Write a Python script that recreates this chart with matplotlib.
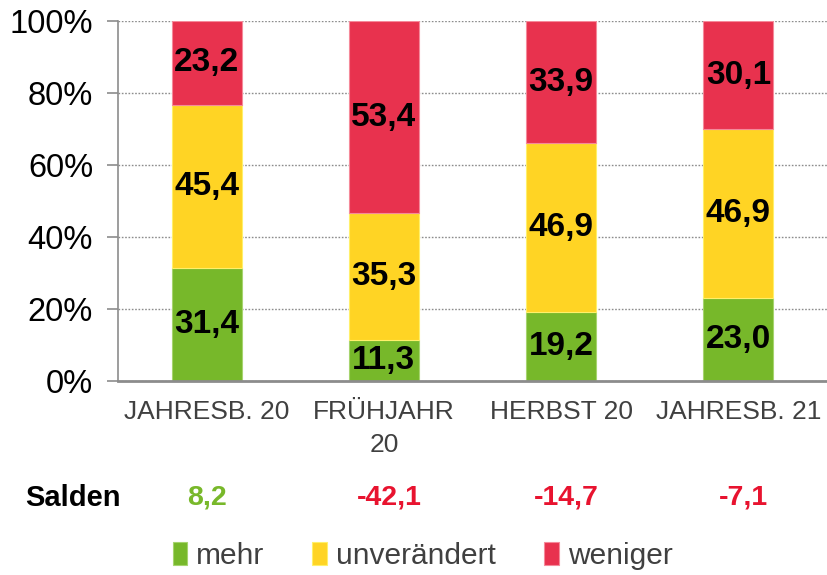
import matplotlib.pyplot as plt
import numpy as np

categories = ["JAHRESB. 20", "FRÜHJAHR\n20", "HERBST 20", "JAHRESB. 21"]
mehr = [31.4, 11.3, 19.2, 23.0]
unveraendert = [45.4, 35.3, 46.9, 46.9]
weniger = [23.2, 53.4, 33.9, 30.1]
salden = [8.2, -42.1, -14.7, -7.1]
series_names = ["mehr", "unverändert", "weniger"]

plt.rcParams['font.family'] = ['Liberation Sans', 'DejaVu Sans']

colors = ["#77b82a", "#ffd424", "#e8324e"]
edges = ["#a6d46e", "#fff06a", "#f58a9a"]
text_gray = "#404040"

def fmt(v):
    return f"{v:.1f}".replace(".", ",")

fig = plt.figure(figsize=(8.27, 5.75), dpi=100)
ax = fig.add_axes([0.1427, 0.3374, 0.8573, 0.6261])

x = np.arange(len(categories))
bottom = np.zeros(len(categories))
handles = []
for vals, col, edge, name in zip([mehr, unveraendert, weniger], colors, edges, series_names):
    vals = np.array(vals)
    bars = ax.bar(x, vals, 0.395, bottom=bottom, color=col, edgecolor=edge,
                  linewidth=0.8, label=name, zorder=3)
    handles.append(bars)
    for xi, b, v in zip(x, bottom, vals):
        ax.text(xi, b + v / 2, fmt(v), ha="center", va="center",
                fontsize=24, fontweight="bold", color="black", zorder=4)
    bottom += vals

ax.set_xlim(-0.5, 3.5)
ax.set_ylim(0, 100)
ax.set_yticks(range(0, 101, 20))
ax.set_yticklabels([f"{t}%" for t in range(0, 101, 20)], fontsize=23.5)
ax.yaxis.grid(True, linestyle=(0, (1.2, 1.2)), color="#8c8c8c", linewidth=1.0, zorder=0)
ax.set_xticks(x)
ax.set_xticklabels(categories, fontsize=19, color=text_gray, linespacing=1.45)
ax.tick_params(axis="x", length=0, pad=14)
ax.tick_params(axis="y", length=8, width=1.2, color="#8c8c8c", pad=10)

for s in ["top", "right"]:
    ax.spines[s].set_visible(False)
ax.spines["left"].set_color("#8c8c8c")
ax.spines["left"].set_linewidth(1.2)
ax.spines["bottom"].set_color("#8c8c8c")
ax.spines["bottom"].set_linewidth(2)
ax.spines["bottom"].set_zorder(5)

# Salden row
trans = ax.get_xaxis_transform()
fig.text(25 / 827, 1 - 498 / 575, "Salden", fontsize=21, fontweight="bold",
         ha="left", va="center")
for xi, s in zip(x, salden):
    col = "#78b82a" if s > 0 else "#e8132f"
    ax.text(xi + (0.0 if s > 0 else 0.03), -0.325, fmt(s), transform=trans,
            ha="center", va="center", fontsize=20.5, fontweight="bold", color=col,
            clip_on=False)

leg = fig.legend(handles, series_names, loc="center", bbox_to_anchor=(0.511, 1 - 556 / 575),
                 ncol=3, frameon=False, fontsize=21.5, handlelength=0.5, handleheight=0.8,
                 handletextpad=0.3, columnspacing=1.6)
for t in leg.get_texts():
    t.set_color(text_gray)

plt.savefig("out.png", dpi=100)
